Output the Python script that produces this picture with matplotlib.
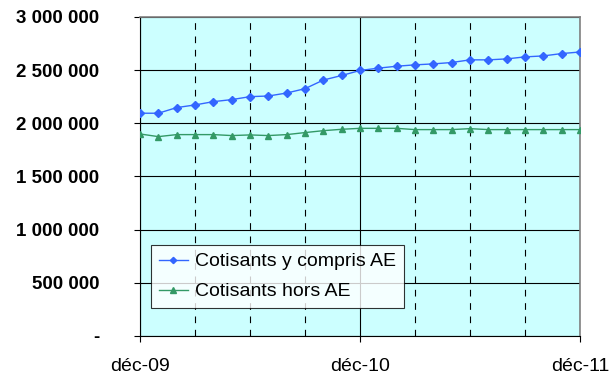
import matplotlib
matplotlib.use("Agg")
import matplotlib.pyplot as plt
from matplotlib.ticker import FixedLocator, FuncFormatter

months = list(range(25))
x_tick_pos = [0, 12, 24]
x_tick_labels = ["déc-09", "déc-10", "déc-11"]

cotisants_ae = [2095000, 2095000, 2148000, 2173000, 2204000, 2223000, 2251000, 2257000,
                2285000, 2326000, 2407000, 2450000, 2497000, 2519000, 2537000, 2550000,
                2559000, 2572000, 2597000, 2597000, 2606000, 2625000, 2634000, 2656000,
                2671000]
cotisants_hors_ae = [1900000, 1875000, 1894000, 1894000, 1894000, 1885000, 1891000, 1885000,
                     1894000, 1913000, 1931000, 1944000, 1953000, 1953000, 1953000, 1941000,
                     1941000, 1941000, 1950000, 1941000, 1941000, 1941000, 1941000, 1941000,
                     1941000]
y_ticks = [0, 500000, 1000000, 1500000, 2000000, 2500000, 3000000]

plt.rcParams['font.family'] = ['Liberation Sans', 'DejaVu Sans']

fig = plt.figure(figsize=(6.10, 3.76), dpi=100)
ax = fig.add_axes([140/610, 40/376, 440/610, 319/376])
ax.set_facecolor('#CCFFFF')

ax.plot(months, cotisants_ae, color='#3366FF', lw=1.0, marker='D', ms=4,
        label='Cotisants y compris AE', zorder=3)
ax.plot(months, cotisants_hors_ae, color='#339966', lw=1.0, marker='^', ms=5,
        label='Cotisants hors AE', zorder=3)

ax.set_xlim(0, 24)
ax.set_ylim(0, 3000000)

ax.xaxis.set_major_locator(FixedLocator(x_tick_pos))
ax.set_xticklabels(x_tick_labels, fontsize=14)
ax.xaxis.set_minor_locator(FixedLocator([3, 6, 9, 15, 18, 21]))
ax.yaxis.set_major_locator(FixedLocator(y_ticks))

def fmt(v, p):
    if v == 0:
        return "-"
    return f"{int(v):,}".replace(",", " ")
ax.yaxis.set_major_formatter(FuncFormatter(fmt))
for lab in ax.get_yticklabels():
    lab.set_fontweight('bold')
    lab.set_fontsize(13.5)

ax.tick_params(axis='y', which='major', direction='out', length=4, width=0.8, pad=25.5, colors='black')
ax.tick_params(axis='x', which='major', direction='out', length=4, width=0.8, pad=12)
ax.tick_params(axis='x', which='minor', length=0)

ax.grid(True, axis='y', which='major', color='black', lw=0.8, zorder=1)
ax.grid(True, axis='x', which='major', color='black', lw=0.8, zorder=1)
ax.grid(True, axis='x', which='minor', color='black', lw=0.8, ls=(0, (6, 6)), zorder=1)

for s in ['left', 'bottom']:
    ax.spines[s].set_color('black')
    ax.spines[s].set_linewidth(0.8)
for s in ['top', 'right']:
    ax.spines[s].set_color('#808080')
    ax.spines[s].set_linewidth(1.2)

leg = ax.legend(loc='upper left', bbox_to_anchor=(11/440, (336-245)/319),
                fontsize=14, frameon=True, fancybox=False, edgecolor='black',
                borderpad=0.4, handlelength=1.5, handletextpad=0.37,
                labelspacing=0.64, borderaxespad=0, markerscale=0.8)
leg.get_frame().set_linewidth(0.8)
leg.get_frame().set_facecolor('white')

fig.savefig("out.png", dpi=100)
